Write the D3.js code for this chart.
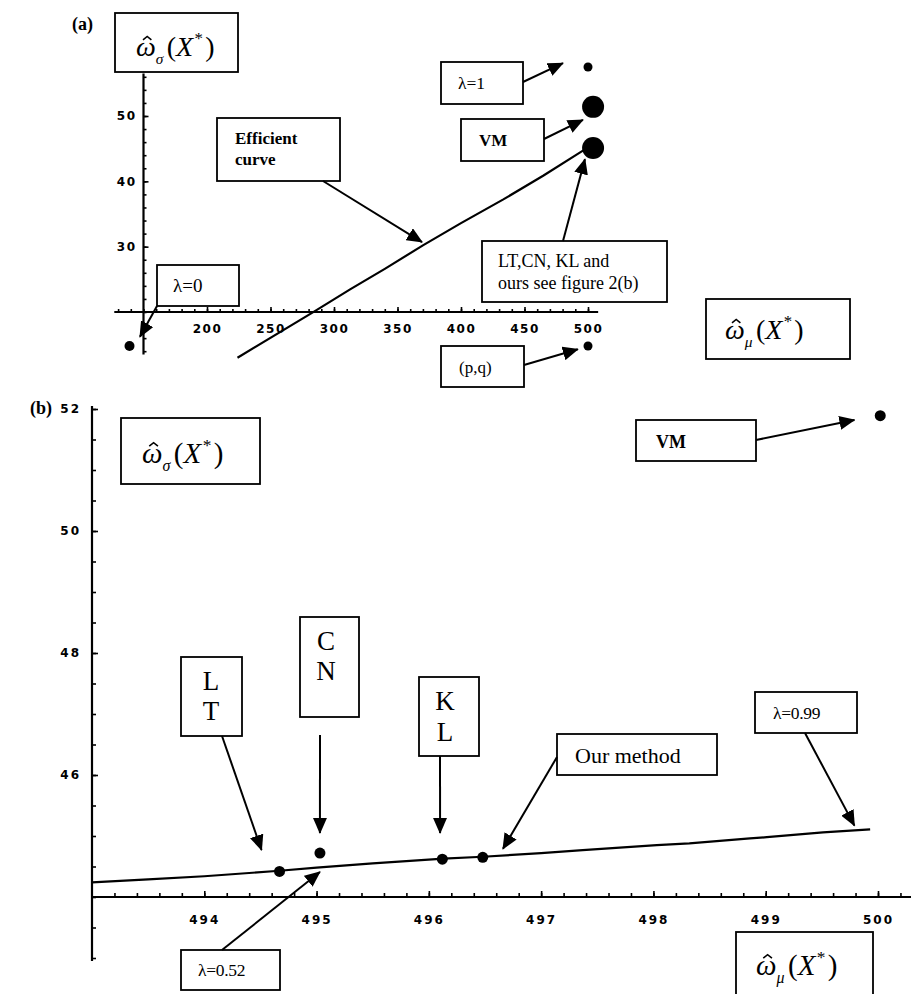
<!DOCTYPE html>
<html>
<head>
<meta charset="utf-8">
<script src="https://cdn.jsdelivr.net/npm/d3@7"></script>
<style>
  body { margin: 0; background: #fff; }
  .serif { font-family: "Liberation Serif", "Times New Roman", serif; }
  .tick-lbl { font-family: "DejaVu Sans", sans-serif; font-weight: bold; }
</style>
</head>
<body>
<div id="chart"></div>
<script>
// ---- panel (a) data ----
const effMuA = [224, 283, 313, 340, 370, 400, 433, 465, 496, 500];
const effSigmaA = [13.0, 19.9, 23.5, 26.6, 30.2, 33.6, 37.2, 40.9, 44.7, 45.1];
const dotNamesA = ["lambda1", "VM", "LT", "lambda0", "pq"];
const dotMuA = [500, 504, 504, 139, 500];
const dotSigmaA = [57.5, 51.4, 45.1, 14.8, 14.8];
const dotSizeA = [4.5, 11, 11, 5, 4.5];
const xTicksA = [200, 250, 300, 350, 400, 450, 500];
const yTicksA = [30, 40, 50];

// ---- panel (b) data ----
const effMuB = [493.0, 493.5, 494.0, 494.67, 495.0, 495.5, 496.13, 496.48, 497.0, 497.37, 498.03, 498.32, 498.86, 499.01, 499.51, 499.93];
const effSigmaB = [44.24, 44.29, 44.34, 44.43, 44.48, 44.55, 44.63, 44.66, 44.72, 44.77, 44.85, 44.88, 44.96, 44.98, 45.06, 45.11];
const dotNamesB = ["VM", "LT", "CN", "KL", "Ours"];
const dotMuB = [500.02, 494.67, 495.03, 496.12, 496.48];
const dotSigmaB = [51.89, 44.42, 44.72, 44.62, 44.65];
const xTicksB = [494, 495, 496, 497, 498, 499, 500];
const yTicksB = [46, 48, 50, 52];

const W = 911, H = 994;
const svg = d3.select("#chart").append("svg").attr("width", W).attr("height", H);

// arrowhead marker
svg.append("defs").append("marker")
    .attr("id", "head")
    .attr("markerUnits", "userSpaceOnUse")
    .attr("markerWidth", 16).attr("markerHeight", 14)
    .attr("refX", 15).attr("refY", 7)
    .attr("orient", "auto")
  .append("path")
    .attr("d", "M0,0 L16,7 L0,14 Z")
    .attr("fill", "#000");

// draw x/y axes with inward ticks
function drawAxes(g, x, y, opt) {
  // axis lines
  g.append("line")
    .attr("x1", x(opt.xExt[0])).attr("x2", x(opt.xExt[1]))
    .attr("y1", y(opt.yCross)).attr("y2", y(opt.yCross))
    .attr("stroke", "#000").attr("stroke-width", 2.2);
  g.append("line")
    .attr("x1", x(opt.xCross)).attr("x2", x(opt.xCross))
    .attr("y1", y(opt.yExt[0])).attr("y2", y(opt.yExt[1]))
    .attr("stroke", "#000").attr("stroke-width", 2.2);

  // minor ticks
  const xMinor = d3.axisBottom(x).tickValues(opt.xMinor).tickSize(-opt.minorLen).tickFormat("");
  const yMinor = d3.axisLeft(y).tickValues(opt.yMinor).tickSize(-opt.minorLen).tickFormat("");
  const xg = g.append("g").attr("transform", "translate(0," + y(opt.yCross) + ")").call(xMinor);
  const yg = g.append("g").attr("transform", "translate(" + x(opt.xCross) + ",0)").call(yMinor);

  // major ticks with labels
  const xMajor = d3.axisBottom(x).tickValues(opt.xTicks).tickSize(-opt.majorLen)
    .tickPadding(opt.xPad).tickFormat(d3.format("d"));
  const yMajor = d3.axisLeft(y).tickValues(opt.yTicks).tickSize(-opt.majorLen)
    .tickPadding(opt.yPad).tickFormat(d3.format("d"));
  const xg2 = g.append("g").attr("transform", "translate(0," + y(opt.yCross) + ")").call(xMajor);
  const yg2 = g.append("g").attr("transform", "translate(" + x(opt.xCross) + ",0)").call(yMajor);

  [xg, yg, xg2, yg2].forEach(a => {
    a.select(".domain").remove();
    a.selectAll(".tick line").attr("stroke", "#000").attr("stroke-width", 1.6);
  });
  [xg2, yg2].forEach(a => {
    a.selectAll(".tick text")
      .attr("class", "tick-lbl")
      .attr("fill", "#000")
      .style("font-size", opt.fontSize + "px")
      .style("letter-spacing", opt.spacing + "px");
  });
}

// boxed label with lines of text
function box(g, x0, y0, x1, y1, lines, style) {
  g.append("rect")
    .attr("x", x0).attr("y", y0).attr("width", x1 - x0).attr("height", y1 - y0)
    .attr("fill", "#fff").attr("stroke", "#000").attr("stroke-width", 1.8);
  lines.forEach(l => {
    g.append("text")
      .attr("class", "serif")
      .attr("x", l.x).attr("y", l.y)
      .attr("text-anchor", l.anchor || "start")
      .style("font-size", style.size + "px")
      .style("font-weight", style.bold ? "bold" : "normal")
      .style("letter-spacing", (style.ls || 0) + "px")
      .text(l.t);
  });
}

// omega-hat axis title, e.g. ω̂σ(X*); the hat is drawn as a small chevron
function omegaLabel(g, x, y, sub, size) {
  const t = g.append("text").attr("class", "serif")
    .attr("x", x).attr("y", y).style("font-size", size + "px");
  t.append("tspan").style("font-style", "italic").text("ω");
  t.append("tspan").style("font-style", "italic").style("font-size", (size * 0.55) + "px")
    .attr("dy", size * 0.28).text(sub);
  t.append("tspan").attr("dy", -size * 0.28).attr("dx", size * 0.12).text("(");
  t.append("tspan").style("font-style", "italic").text("X");
  t.append("tspan").style("font-size", (size * 0.6) + "px").attr("dy", -size * 0.42).attr("dx", size * 0.05).text("*");
  t.append("tspan").attr("dy", size * 0.42).attr("dx", size * 0.08).text(")");
  const hx = x + size * 0.4, hy = y - size * 0.7, s = size * 0.15;
  g.append("path")
    .attr("d", `M${hx - s},${hy + s * 0.8} L${hx},${hy} L${hx + s},${hy + s * 0.8}`)
    .attr("fill", "none").attr("stroke", "#000").attr("stroke-width", 1.6);
}

function arrow(g, x1, y1, x2, y2) {
  g.append("line")
    .attr("x1", x1).attr("y1", y1).attr("x2", x2).attr("y2", y2)
    .attr("stroke", "#000").attr("stroke-width", 2)
    .attr("marker-end", "url(#head)");
}

// ================= panel (a) =================
const gA = svg.append("g");
const xA = d3.scaleLinear().domain([150, 500]).range([143.5, 588]);
const yA = d3.scaleLinear().domain([20, 50]).range([312, 116]);

drawAxes(gA, xA, yA, {
  xExt: [127, 508], yExt: [13.5, 56.5], xCross: 150, yCross: 20,
  xMinor: d3.range(130, 501, 10), yMinor: d3.range(14, 57, 2),
  xTicks: xTicksA, yTicks: yTicksA,
  minorLen: 3, majorLen: 5, xPad: 12, yPad: 7, fontSize: 12, spacing: 1.5
});

const lineA = d3.line().x(i => xA(effMuA[i])).y(i => yA(effSigmaA[i]));
gA.append("path")
  .attr("d", lineA(d3.range(effMuA.length)))
  .attr("fill", "none").attr("stroke", "#000").attr("stroke-width", 2.2);

gA.selectAll("circle.dot").data(dotNamesA).enter().append("circle")
  .attr("class", "dot")
  .attr("cx", (d, i) => xA(dotMuA[i]))
  .attr("cy", (d, i) => yA(dotSigmaA[i]))
  .attr("r", (d, i) => dotSizeA[i])
  .attr("fill", "#000");

gA.append("text").attr("class", "serif").attr("x", 72).attr("y", 30)
  .style("font-size", "18px").style("font-weight", "bold").text("(a)");

box(gA, 115, 13, 238, 72, [], {size: 24});
omegaLabel(gA, 136, 56, "σ", 28);

box(gA, 706, 299, 850, 359, [], {size: 24});
omegaLabel(gA, 725, 339, "μ", 28);

box(gA, 441, 62, 523, 104, [{t: "λ=1", x: 458, y: 89}], {size: 17.5});
arrow(gA, 523, 82, xA(480.3), yA(58.1));

box(gA, 461, 119, 544, 161, [{t: "VM", x: 479, y: 146}], {size: 17, bold: true});
arrow(gA, 544, 139, xA(496), yA(49.4));

box(gA, 217, 118, 340, 181, [{t: "Efficient", x: 235, y: 144}, {t: "curve", x: 235, y: 165}], {size: 17, bold: true});
arrow(gA, 323, 181, xA(369.3), yA(30.7));

box(gA, 482, 241, 667, 302, [{t: "LT,CN, KL and", x: 498, y: 267}, {t: "ours see figure 2(b)", x: 498, y: 289}], {size: 18});
arrow(gA, 563, 241, xA(497.6), yA(43.4));

box(gA, 157, 265, 239, 306, [{t: "λ=0", x: 173, y: 292}], {size: 19});
arrow(gA, 157, 306, xA(147.2), yA(16.2));

box(gA, 441, 346, 524, 387, [{t: "(p,q)", x: 459, y: 373}], {size: 17});
arrow(gA, 524, 365, xA(492), yA(14.3));

// ================= panel (b) =================
const gB = svg.append("g");
const xB = d3.scaleLinear().domain([493, 500]).range([92, 878]);
const yB = d3.scaleLinear().domain([44, 52]).range([897, 409]);

drawAxes(gB, xB, yB, {
  xExt: [493, 500.3], yExt: [42.95, 52.05], xCross: 493, yCross: 44,
  xMinor: d3.range(493.2, 500.25, 0.2), yMinor: d3.range(43, 52.01, 0.5),
  xTicks: xTicksB, yTicks: yTicksB,
  minorLen: 4, majorLen: 6, xPad: 18, yPad: 11, fontSize: 12, spacing: 2
});

const lineB = d3.line().x(i => xB(effMuB[i])).y(i => yB(effSigmaB[i]));
gB.append("path")
  .attr("d", lineB(d3.range(effMuB.length)))
  .attr("fill", "none").attr("stroke", "#000").attr("stroke-width", 2.2);

gB.selectAll("circle.dot").data(dotNamesB).enter().append("circle")
  .attr("class", "dot")
  .attr("cx", (d, i) => xB(dotMuB[i]))
  .attr("cy", (d, i) => yB(dotSigmaB[i]))
  .attr("r", 5.5)
  .attr("fill", "#000");

gB.append("text").attr("class", "serif").attr("x", 30).attr("y", 414)
  .style("font-size", "18px").style("font-weight", "bold").text("(b)");

box(gB, 121, 418, 260, 484, [], {size: 26});
omegaLabel(gB, 142, 463, "σ", 29);

box(gB, 736, 932, 873, 1000, [], {size: 26});
omegaLabel(gB, 756, 975, "μ", 29);

box(gB, 636, 420, 756, 461, [{t: "VM", x: 656, y: 448}], {size: 18, bold: true});
arrow(gB, 756, 440, xB(499.79), yB(51.82));

box(gB, 181, 657, 242, 736, [{t: "L", x: 211, y: 690, anchor: "middle"}, {t: "T", x: 211, y: 720, anchor: "middle"}], {size: 27});
arrow(gB, 222, 736, xB(494.51), yB(44.77));

box(gB, 300, 617, 359, 717, [{t: "C", x: 326, y: 650, anchor: "middle"}, {t: "N", x: 326, y: 680, anchor: "middle"}], {size: 27});
arrow(gB, 320, 735, xB(495.03), yB(45.05));

box(gB, 419, 677, 479, 756, [{t: "K", x: 445, y: 710, anchor: "middle"}, {t: "L", x: 445, y: 741, anchor: "middle"}], {size: 27});
arrow(gB, 440, 756, xB(496.1), yB(45.05));

box(gB, 557, 734, 717, 775, [{t: "Our method", x: 575, y: 763}], {size: 22});
arrow(gB, 557, 757, xB(496.66), yB(44.79));

box(gB, 755, 692, 857, 733, [{t: "λ=0.99", x: 773, y: 719}], {size: 17.5, ls: -0.3});
arrow(gB, 805, 733, xB(499.79), yB(45.17));

box(gB, 181, 950, 280, 990, [{t: "λ=0.52", x: 198, y: 976}], {size: 17.5, ls: -0.3});
arrow(gB, 222, 950, xB(495.03), yB(44.41));
</script>
</body>
</html>
